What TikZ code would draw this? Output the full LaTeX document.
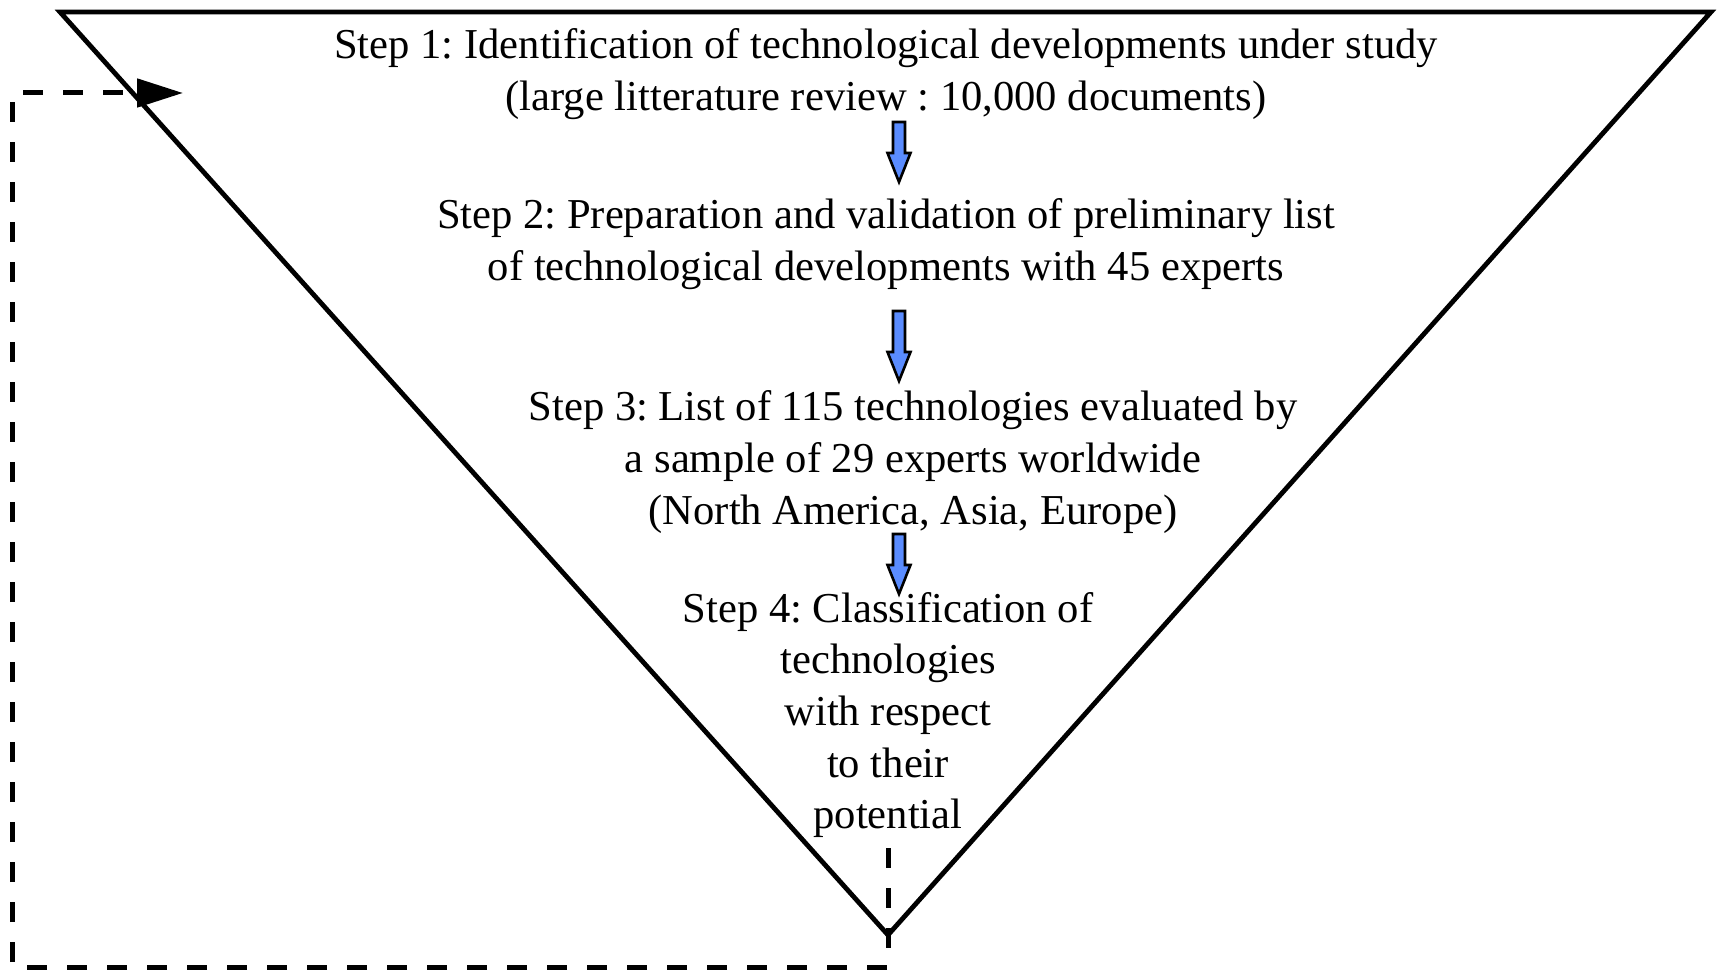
\documentclass[tikz,border=0pt]{standalone}
\usepackage{fontspec}
\setmainfont{Liberation Serif}
\frenchspacing
\usetikzlibrary{arrows.meta}
\definecolor{flowblue}{RGB}{90,140,255}
\tikzset{
  frame/.style={line width=2.4pt, line join=miter},
  loopline/.style={line width=2.5pt, dash pattern=on 10pt off 10pt},
  steptext/.style={align=center, inner sep=0pt, font=\fontsize{21.3}{25.8}\selectfont},
  blockarrow/.style={fill=flowblue, draw=black, line width=1.3pt, line join=miter}
}
% block arrow: #1 = x centre, #2 = top, #3 = head start, #4 = tip
\newcommand{\downblock}[4]{%
  \draw[blockarrow] (#1-6,#2) -- (#1+6,#2) -- (#1+6,#3) -- (#1+11.5,#3) -- (#1,#4)
    -- (#1-11.5,#3) -- (#1-6,#3) -- cycle;}
\begin{document}
\begin{tikzpicture}[x=0.5pt,y=-0.5pt]
\useasboundingbox (0,0) rectangle (1720,973);
% funnel
\coordinate (tl) at (60,12);
\coordinate (tr) at (1711,12);
\coordinate (bot) at (888,935);
\draw[frame] (tl) -- (tr) -- (bot) -- cycle;
% step texts
\node[steptext] (s1) at (886,74) {Step 1: Identification of technological developments under study\\(large litterature review : 10,000 documents)};
\node[steptext] (s2) at (886,244) {Step 2: Preparation and validation of preliminary list\\of technological developments with 45 experts};
\node[steptext] (s3) at (913,462) {Step 3: List of 115 technologies evaluated by\\a sample of 29 experts worldwide\\(North America, Asia, Europe)};
\node[steptext] (s4) at (888,715) {Step 4: Classification of\\technologies\\with respect\\to their\\potential};
% arrows between steps
\downblock{899}{122}{153}{182}
\downblock{899}{311}{352}{381}
\downblock{899}{534}{565}{594}
% feedback loop
\coordinate (lstart) at (888,848);
\coordinate (lc1) at (888,967);
\coordinate (lc2) at (12,967);
\coordinate (lc3) at (12,93);
\coordinate (lend) at (183,93);
\draw[loopline, -{Triangle[length=23pt,width=14pt]}] (lstart) -- (lc1) -- (lc2) -- (lc3) -- (lend);
\end{tikzpicture}
\end{document}
